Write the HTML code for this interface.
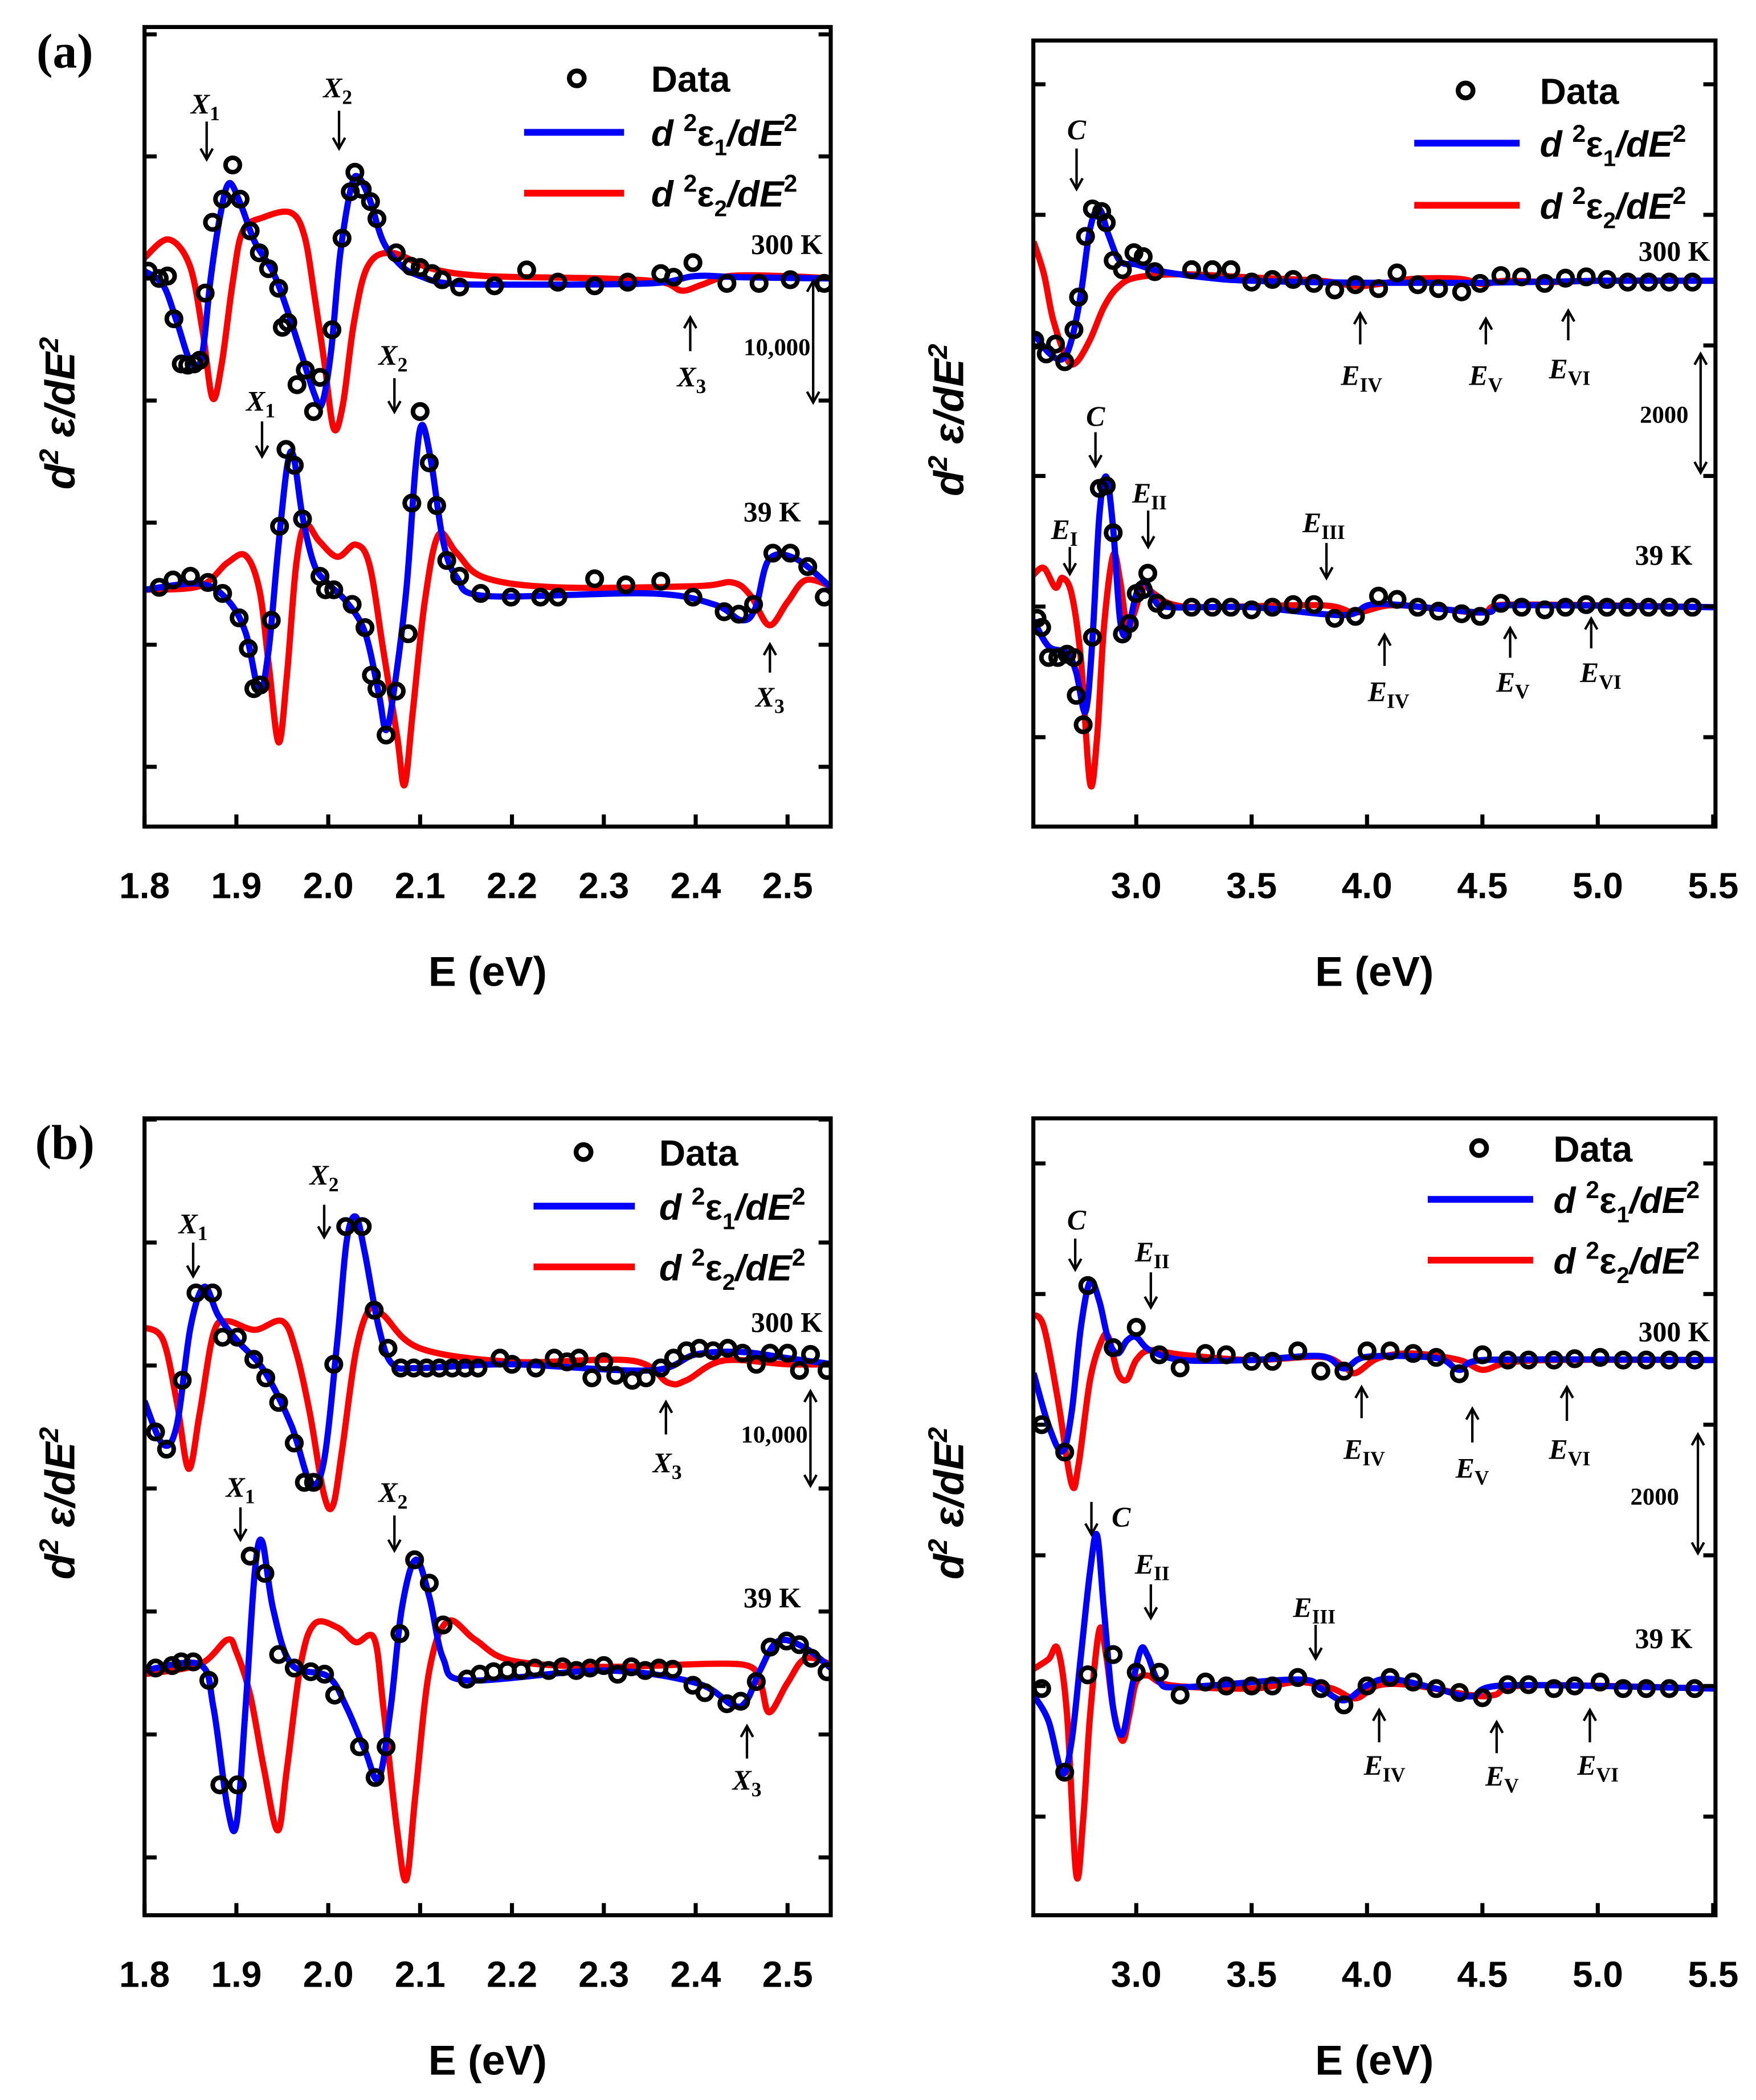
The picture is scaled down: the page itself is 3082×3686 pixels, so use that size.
<!DOCTYPE html>
<html><head><meta charset="utf-8"><style>
html,body{margin:0;padding:0;background:#fff}
svg{display:block}
.tk{font-family:"Liberation Sans",sans-serif;font-weight:bold;font-size:27px}
.ax{font-family:"Liberation Sans",sans-serif;font-weight:bold;font-size:31px}
.lg{font-family:"Liberation Sans",sans-serif;font-weight:bold;font-size:27px}
.an{font-family:"Liberation Serif",serif;font-weight:bold;font-size:21px}
.ai{font-family:"Liberation Serif",serif;font-weight:bold;font-style:italic;font-size:21px}
.pl{font-family:"Liberation Serif",serif;font-weight:bold;font-size:36px}
.sc{font-family:"Liberation Serif",serif;font-weight:bold;font-size:18px}
</style></head><body>
<svg id="fig" width="3082" height="3686" viewBox="0 0 1300 1554.8" preserveAspectRatio="none" xmlns="http://www.w3.org/2000/svg">
<g id="root"></g>
</svg>
<script>
// ===== data: panel (a) left, units: 1000 (x in eV) =====
const aL_d300x=[1.804,1.816,1.825,1.832,1.840,1.847,1.854,1.860,1.866,1.874,1.885,1.896,1.904,1.915,1.925,1.935,1.946,1.950,1.956,1.966,1.975,1.984,1.991,2.004,2.015,2.024,2.029,2.037,2.046,2.053,2.074,2.090,2.100,2.113,2.124,2.143,2.181,2.216,2.250,2.290,2.326,2.362,2.376,2.397,2.434,2.469,2.503,2.540];
const aL_d300y=[0.6,0,0.2,-3.3,-7.0,-7.1,-7.0,-6.7,-1.2,4.6,6.5,9.3,6.5,3.9,2.1,0.8,-0.8,-4.0,-3.6,-8.7,-7.5,-10.9,-8.1,-4.2,3.3,7.1,8.7,7.3,6.3,4.9,2.1,1.0,0.9,0.4,-0.1,-0.7,-0.6,0.7,-0.3,-0.6,-0.3,0.4,0.1,1.3,-0.4,-0.4,-0.1,-0.4];
const aL_b300x=[1.80,1.82,1.835,1.85,1.862,1.872,1.882,1.892,1.905,1.92,1.94,1.955,1.97,1.985,1.993,2.003,2.013,2.025,2.033,2.045,2.06,2.08,2.10,2.13,2.2,2.35,2.4,2.45,2.55];
const aL_b300y=[0.6,-0.5,-3.5,-6.8,-6.5,0,5,7.8,6,3,0.5,-2.5,-6,-9.5,-10.3,-6,2,7.5,8.3,6.5,3,1,0.2,-0.4,-0.5,-0.4,0.2,0.1,0];
const aL_r300x=[1.80,1.826,1.849,1.863,1.874,1.884,1.896,1.907,1.929,1.959,1.974,1.985,1.996,2.006,2.016,2.028,2.043,2.069,2.113,2.172,2.30,2.363,2.385,2.407,2.437,2.495,2.55];
const aL_r300y=[1.7,3.2,1.1,-4.2,-9.8,-7,-0.3,3.9,5,5.4,3.5,-1.4,-7,-12.3,-10.3,-3.6,1,2.1,0.8,0.2,0,-0.3,-1,-0.5,0.2,0.2,0];
const aL_d39x=[1.816,1.831,1.85,1.869,1.885,1.903,1.913,1.919,1.926,1.938,1.947,1.954,1.963,1.972,1.991,1.997,2.006,2.026,2.040,2.047,2.053,2.063,2.074,2.087,2.091,2.100,2.110,2.118,2.129,2.143,2.166,2.199,2.231,2.25,2.29,2.324,2.362,2.397,2.431,2.447,2.463,2.484,2.503,2.522,2.54];
const aL_d39y=[0.2,0.8,1.1,0.6,-0.3,-2.3,-4.8,-8.1,-7.8,-2.5,5.2,11.5,10.2,5.8,1.1,0,0,-1.2,-3.1,-7,-8.1,-11.9,-8.3,-3.6,7.1,14.6,10.4,6.9,2.4,1.1,-0.3,-0.6,-0.6,-0.6,0.9,0.4,0.7,-0.6,-1.8,-2,-1.2,3,3,1.9,-0.6];
const aL_b39x=[1.80,1.86,1.89,1.91,1.925,1.935,1.945,1.955,1.962,1.972,1.985,2.0,2.02,2.04,2.055,2.063,2.072,2.085,2.095,2.102,2.112,2.125,2.14,2.17,2.35,2.42,2.45,2.465,2.48,2.51,2.55];
const aL_b39y=[0,0.5,-0.8,-3.5,-8.3,-5,3,10,11,6,2,0.5,-1,-3.5,-8.5,-11.5,-8,0,10,13.5,10.5,4,1,-0.5,-0.3,-1.2,-2.5,-1.5,2.5,2.5,0];
const aL_r39x=[1.80,1.86,1.89,1.91,1.925,1.935,1.946,1.955,1.965,1.975,1.99,2.01,2.03,2.045,2.06,2.075,2.083,2.092,2.105,2.12,2.14,2.17,2.25,2.4,2.44,2.46,2.48,2.5,2.52,2.55];
const aL_r39y=[0,0.3,2.2,2.8,0,-6,-12.5,-7,2,5.3,4,2.7,3.7,2,-5,-12,-16,-10,-1,4.5,3,1,0.2,0.3,0.6,-0.5,-2.9,-1,0.8,0.2];
// ===== panel (a) right, units: 100 =====
const aR_d300x=[2.56,2.61,2.65,2.69,2.73,2.75,2.78,2.81,2.85,2.87,2.90,2.94,2.99,3.03,3.08,3.24,3.33,3.41,3.50,3.59,3.68,3.77,3.86,3.95,4.05,4.13,4.22,4.31,4.41,4.49,4.58,4.67,4.77,4.86,4.95,5.04,5.13,5.22,5.31,5.41];
const aR_d300y=[-9.1,-11.2,-9.7,-12.4,-7.5,-2.5,6.8,11,10.6,8.9,3.1,1.7,4.3,3.7,1.4,1.7,1.7,1.7,-0.2,0.2,0.2,-0.4,-1.4,-0.6,-1.2,1.2,-0.6,-1.2,-1.7,-0.4,0.8,0.6,-0.4,0.4,0.6,0.2,-0.2,-0.2,-0.2,-0.2];
const aR_b300x=[2.555,2.62,2.68,2.72,2.76,2.8,2.84,2.88,2.93,3.0,3.1,3.3,3.5,4.0,4.5,5.0,5.51];
const aR_b300y=[-8,-11,-12,-9,-2,8,11,7,3,2.5,1.5,0.5,0,-0.3,-0.3,0,0];
const aR_r300x=[2.555,2.6,2.64,2.7,2.74,2.8,2.86,2.92,3.0,3.2,3.5,3.8,3.95,4.05,4.2,4.4,4.5,4.6,4.8,5.0,5.51];
const aR_r300y=[6,1,-6,-12,-12.5,-9,-4,-1,0.5,1,0.5,0,-0.8,-0.5,0.3,0.3,-0.5,0,-0.2,0,0];
const aR_d39x=[2.57,2.59,2.62,2.66,2.70,2.73,2.74,2.77,2.81,2.84,2.87,2.90,2.94,2.97,3.0,3.03,3.05,3.09,3.13,3.24,3.33,3.41,3.50,3.59,3.68,3.77,3.86,3.95,4.05,4.13,4.22,4.31,4.41,4.49,4.58,4.67,4.77,4.86,4.95,5.04,5.13,5.22,5.31,5.41];
const aR_d39y=[-1.7,-3.1,-7.7,-7.7,-7.2,-7.7,-13.5,-18,-4.6,18.2,18.6,11.4,-4.1,-2.5,2.1,2.7,5.2,0.6,-0.4,0,0,0,-0.4,0,0.4,0.4,-1.7,-1.4,1.7,1.2,0,-0.6,-1,-1.4,0.6,0,-0.4,0,0.4,0,0,0,0,0];
const aR_b39x=[2.555,2.62,2.7,2.74,2.78,2.81,2.84,2.87,2.9,2.93,2.96,3.0,3.04,3.08,3.15,3.5,3.9,4.05,4.5,4.6,5.51];
const aR_b39y=[-2,-6,-7,-10,-16,-5,14,20,12,-2,-4,2,4,1,0,0,-1.2,0.5,-0.8,0.3,0];
const aR_r39x=[2.555,2.6,2.65,2.68,2.72,2.76,2.8,2.83,2.86,2.9,2.93,2.96,2.99,3.03,3.08,3.15,3.3,3.8,3.95,4.1,4.3,4.5,4.6,5.51];
const aR_r39y=[5,6,3,4.5,2,-8,-27,-20,-3,8,4,-3,-1,3,2,0.5,0,0.3,-0.8,0.3,-0.2,-0.8,0.4,0];
// ===== panel (b) left, units: 1000 =====
const bL_d300x=[1.812,1.824,1.841,1.856,1.874,1.885,1.901,1.919,1.932,1.946,1.963,1.974,1.984,2.006,2.019,2.037,2.05,2.065,2.079,2.093,2.107,2.121,2.135,2.149,2.163,2.187,2.20,2.226,2.246,2.26,2.273,2.287,2.30,2.313,2.331,2.346,2.362,2.376,2.39,2.404,2.419,2.435,2.451,2.466,2.481,2.50,2.513,2.525,2.543];
const bL_d300y=[-5.5,-6.9,-1.3,5.8,5.8,2.2,2.2,0.4,-1.1,-3.1,-6.4,-9.6,-9.6,0,11.2,11.2,4.4,1.3,-0.3,-0.3,-0.3,-0.3,-0.3,-0.3,-0.3,0.5,0,-0.3,0.5,0.2,0.5,-1.1,0.2,-0.9,-1.3,-1.1,-0.3,0.5,1.1,1.3,1.1,1.3,0.9,0,0.9,0.9,-0.5,0.8,-0.5];
const bL_b300x=[1.80,1.82,1.835,1.85,1.865,1.88,1.9,1.93,1.96,1.98,1.995,2.01,2.02,2.03,2.04,2.055,2.07,2.1,2.2,2.35,2.4,2.45,2.5,2.55];
const bL_b300y=[-3,-6.5,-5,3,6.3,4,2,-0.5,-5,-9.5,-8,2,10,12,9,3,0,-0.3,0,-0.5,0.8,1,0.5,0];
const bL_r300x=[1.80,1.82,1.835,1.848,1.86,1.875,1.89,1.92,1.95,1.965,1.98,1.995,2.005,2.015,2.03,2.045,2.06,2.1,2.2,2.33,2.37,2.39,2.43,2.5,2.55];
const bL_r300y=[3,2,-3,-8.5,-4,2.5,3.5,2.8,3.5,1,-4,-10.5,-11.5,-7,1,4.5,4,1.3,0.2,0.3,-1.5,-1.3,0.3,0,0];
const bL_d39x=[1.812,1.83,1.84,1.853,1.87,1.882,1.901,1.915,1.931,1.946,1.963,1.981,1.996,2.007,2.034,2.051,2.063,2.078,2.094,2.11,2.125,2.151,2.165,2.18,2.195,2.21,2.225,2.24,2.255,2.27,2.285,2.3,2.315,2.33,2.345,2.36,2.375,2.397,2.41,2.434,2.449,2.466,2.481,2.499,2.513,2.526,2.543];
const bL_d39y=[0.2,0.4,0.7,0.7,-0.8,-9.3,-9.3,9.3,7.9,1.3,0.2,-0.1,-0.3,-2,-6.2,-8.7,-6.2,3,9,7.1,3.7,-0.7,-0.3,-0.1,0,0,0.2,0,0.3,0,0.2,0.4,-0.3,0.3,0,0.2,0.1,-1.2,-1.8,-2.7,-2.5,-0.9,1.9,2.4,2.1,1,-0.1];
const bL_b39x=[1.80,1.86,1.875,1.89,1.9,1.91,1.92,1.928,1.94,1.96,2.0,2.02,2.04,2.055,2.068,2.08,2.095,2.11,2.125,2.15,2.3,2.4,2.44,2.455,2.47,2.49,2.52,2.55];
const bL_b39y=[0,0.5,-3,-11,-12.5,-3,8,10.5,5,0.5,-0.5,-3,-6.5,-8.8,-3,5,9,6,1,-0.8,0,-1,-2.8,-2.5,0,2.4,1.8,0];
const bL_r39x=[1.80,1.86,1.89,1.9,1.915,1.93,1.945,1.955,1.97,1.985,2.01,2.03,2.05,2.06,2.075,2.085,2.095,2.11,2.13,2.16,2.2,2.3,2.45,2.47,2.48,2.5,2.52,2.55];
const bL_r39y=[-0.3,0.5,2.5,1.5,-2,-8,-13,-8,0.5,3.8,3.5,2.3,2.6,-3,-13,-17,-10,0,4,2.5,0.8,0.3,0.5,-1,-3.4,-1,1,0.4];
// ===== panel (b) right, units: 100 =====
const bR_d300x=[2.59,2.69,2.79,2.9,3.0,3.10,3.19,3.30,3.39,3.50,3.59,3.70,3.80,3.90,4.0,4.10,4.20,4.30,4.40,4.5,4.61,4.70,4.81,4.90,5.01,5.11,5.21,5.31,5.42];
const bR_d300y=[-9.9,-14.1,11.4,1.9,5,0.8,-1.2,1,0.8,-0.2,-0.2,1.4,-1.7,-1.7,1.4,1.4,1,0.4,-2.1,0.8,0,0,0,0.2,0.4,0,0,0,0];
const bR_b300x=[2.555,2.62,2.68,2.72,2.76,2.8,2.84,2.88,2.92,2.96,3.0,3.06,3.2,3.5,3.8,3.9,4.0,4.3,4.4,4.5,5.51];
const bR_b300y=[-2,-10,-14,-8,5,12,9,3,1,3,3.5,1.5,0,0,0.6,-1.3,0.5,0.3,-1.5,0,0];
const bR_r300x=[2.555,2.6,2.66,2.72,2.75,2.8,2.85,2.88,2.92,2.96,3.0,3.06,3.2,3.5,3.8,3.9,3.95,4.05,4.2,4.4,4.5,4.6,4.8,5.51];
const bR_r300y=[7,5,-6,-19,-16,-3,3,3.5,-2,-3,0,1.5,0.8,0,0.5,-1,-2,0.3,1,0,-1.5,-0.5,0,0];
const bR_d39x=[2.59,2.69,2.79,2.9,3.0,3.10,3.19,3.30,3.39,3.50,3.59,3.70,3.80,3.90,4.0,4.10,4.20,4.30,4.40,4.5,4.61,4.70,4.81,4.90,5.01,5.11,5.21,5.31,5.42];
const bR_d39y=[0,-12.8,2.1,5.2,2.5,2.5,-1,1,0.4,0.4,0.4,1.7,0,-2.5,0.4,1.7,1,0,-0.6,-1.4,0.6,0.6,0,0.4,1,0,0,0,0];
const bR_b39x=[2.555,2.62,2.68,2.72,2.76,2.8,2.83,2.86,2.9,2.94,2.98,3.02,3.05,3.1,3.2,3.7,3.8,3.9,4.0,4.1,4.3,4.45,4.6,5.51];
const bR_b39y=[-1,-5,-13,-8,5,18,23.5,12,-3,-7,0,6,5,1,0.2,1.4,0,-1.8,0.5,1.5,0,-1.2,0.5,0];
const bR_r39x=[2.555,2.62,2.66,2.7,2.74,2.77,2.8,2.84,2.87,2.9,2.94,2.97,3.0,3.05,3.15,3.5,3.7,3.85,3.95,4.05,4.2,4.45,4.55,4.7,5.51];
const bR_r39y=[3,4.5,6,-4,-28.5,-20,-4,9,5,-3,-8,-4,1,2,0.5,0,1,0,-1.5,0.5,0.5,-1,-1,0.5,0];
// curve offsets per temperature and tick labels
const aL_offsets=[40,14.5], aR_offsets=[69.9,19.9], bL_offsets=[40.1,15.2], bR_offsets=[69.9,19.6];
const leftTicks=[1.8,1.9,2.0,2.1,2.2,2.3,2.4,2.5];
const rightTicks=[3.0,3.5,4.0,4.5,5.0,5.5];

const NS='http://www.w3.org/2000/svg';
const root=document.getElementById('root');
function mk(tag,attrs,parent){const e=document.createElementNS(NS,tag);for(const k in attrs)e.setAttribute(k,attrs[k]);(parent||root).appendChild(e);return e;}

function panel(p){
  const g=mk('g',{});
  
  
  const X=v=>p.x0+(v-p.xmin)/(p.xmax-p.xmin)*(p.x1-p.x0);
  const Y=v=>p.y1-(v-p.ymin)/(p.ymax-p.ymin)*(p.y1-p.y0);
  const cp=mk('clipPath',{id:'cl'+p.name},g);mk('rect',{x:p.x0,y:p.y0,width:p.x1-p.x0,height:p.y1-p.y0},cp);
  const cg=mk('g',{'clip-path':'url(#cl'+p.name+')'},g);
  function curve(xs,ys,off,color,nm){
    const pts=xs.map((x,i)=>[X(x),Y(ys[i]+off)]);
    let d='M'+pts[0][0].toFixed(2)+','+pts[0][1].toFixed(2);
    for(let i=0;i<pts.length-1;i++){
      const p0=pts[Math.max(0,i-1)],p1=pts[i],p2=pts[i+1],p3=pts[Math.min(pts.length-1,i+2)];
      const c1=[p1[0]+(p2[0]-p0[0])/6,p1[1]+(p2[1]-p0[1])/6];
      const c2=[p2[0]-(p3[0]-p1[0])/6,p2[1]-(p3[1]-p1[1])/6];
      c1[0]=Math.min(Math.max(c1[0],p1[0]),p2[0]);c2[0]=Math.min(Math.max(c2[0],p1[0]),p2[0]);
      d+=' C'+c1[0].toFixed(2)+','+c1[1].toFixed(2)+' '+c2[0].toFixed(2)+','+c2[1].toFixed(2)+' '+p2[0].toFixed(2)+','+p2[1].toFixed(2);
    }
    const e=mk('path',{d:d,fill:'none',stroke:color,'stroke-width':4.6,'stroke-linejoin':'round'},cg);
    
    
  }
  function dots(xs,ys,off,nm){
    const gg=mk('g',{},cg);
    
    
    xs.forEach((x,i)=>{
      const c=mk('circle',{cx:X(x),cy:Y(ys[i]+off),r:5.3,fill:'none',stroke:'#000','stroke-width':3.4},gg);
      
      
    });
  }
  [[0,'300k'],[1,'39k']].forEach(([k,t])=>{
    curve(p.s[k].rx,p.s[k].ry,p.off[k],'#ff0000','red-fit-'+t);
    curve(p.s[k].bx,p.s[k].by,p.off[k],'#0000ff','blue-fit-'+t);
    dots(p.s[k].dx,p.s[k].dy,p.off[k],'data-'+t);
  });
  const fr=mk('rect',{x:p.x0,y:p.y0,width:p.x1-p.x0,height:p.y1-p.y0,fill:'none',stroke:'#000','stroke-width':3},g);
  
  
  p.xt.forEach(v=>{
    const x=X(v);
    mk('line',{x1:x,x2:x,y1:p.y1,y2:p.y1-9,stroke:'#000','stroke-width':3},g);
    const t=mk('text',{x:x,y:p.y1+53,'text-anchor':'middle',class:'tk'},g);t.textContent=v.toFixed(1);
    
    
  });
  for(let v=p.ytick0;v<p.ymax;v+=p.ystep){
    const y=Y(v);
    mk('line',{x1:p.x0,x2:p.x0+9,y1:y,y2:y,stroke:'#000','stroke-width':3},g);
    mk('line',{x1:p.x1,x2:p.x1-9,y1:y,y2:y,stroke:'#000','stroke-width':3},g);
  }
  const xl=mk('text',{x:(p.x0+p.x1)/2,y:p.y1+118,'text-anchor':'middle',class:'ax'},g);xl.textContent='E (eV)';
  
  
  const yl=mk('text',{transform:'translate('+(p.x0-52)+','+((p.y0+p.y1)/2-10)+') rotate(-90)','text-anchor':'middle',class:'ax','font-style':'italic'},g);
  yl.innerHTML='d<tspan dy="-12" font-size="20">2</tspan><tspan dy="12"> ε/dE</tspan><tspan dy="-12" font-size="20">2</tspan>';
  
  
}
const S=(a,b,c,d,e,f)=>({dx:a,dy:b,bx:c,by:d,rx:e,ry:f});
panel({name:'panel-a-left',x0:107,x1:615,y0:20,y1:612,xmin:1.8,xmax:2.547,ymin:-4.9,ymax:60.6,ytick0:0,ystep:10,xt:leftTicks,off:aL_offsets,
  s:[S(aL_d300x,aL_d300y,aL_b300x,aL_b300y,aL_r300x,aL_r300y),S(aL_d39x,aL_d39y,aL_b39x,aL_b39y,aL_r39x,aL_r39y)]});
panel({name:'panel-a-right',x0:765,x1:1270,y0:30,y1:612,xmin:2.554,xmax:5.51,ymin:-13.7,ymax:106.7,ytick0:0,ystep:20,xt:rightTicks,off:aR_offsets,
  s:[S(aR_d300x,aR_d300y,aR_b300x,aR_b300y,aR_r300x,aR_r300y),S(aR_d39x,aR_d39y,aR_b39x,aR_b39y,aR_r39x,aR_r39y)]});
panel({name:'panel-b-left',x0:107,x1:615,y0:828,y1:1418,xmin:1.8,xmax:2.547,ymin:-4.7,ymax:60.1,ytick0:0,ystep:10,xt:leftTicks,off:bL_offsets,
  s:[S(bL_d300x,bL_d300y,bL_b300x,bL_b300y,bL_r300x,bL_r300y),S(bL_d39x,bL_d39y,bL_b39x,bL_b39y,bL_r39x,bL_r39y)]});
panel({name:'panel-b-right',x0:765,x1:1270,y0:828,y1:1418,xmin:2.554,xmax:5.51,ymin:-15.1,ymax:106.9,ytick0:0,ystep:20,xt:rightTicks,off:bR_offsets,
  s:[S(bR_d300x,bR_d300y,bR_b300x,bR_b300y,bR_r300x,bR_r300y),S(bR_d39x,bR_d39y,bR_b39x,bR_b39y,bR_r39x,bR_r39y)]});

function legend(cx,cy,tx,lx0,lx1,yb,yr){
  const g=mk('g',{});
  
  
  mk('circle',{cx:cx,cy:cy,r:5.5,fill:'none',stroke:'#000','stroke-width':3.6},g);
  let t=mk('text',{x:tx,y:cy+10,class:'lg'},g);t.textContent='Data';
  mk('line',{x1:lx0,x2:lx1,y1:yb,y2:yb,stroke:'#0000ff','stroke-width':5},g);
  t=mk('text',{x:tx,y:yb+10,class:'lg','font-style':'italic'},g);
  t.innerHTML='d <tspan dy="-11" font-size="18" font-style="normal">2</tspan><tspan dy="11" font-style="normal">ε</tspan><tspan dy="7" font-size="17" font-style="normal">1</tspan><tspan dy="-7">/dE</tspan><tspan dy="-11" font-size="18" font-style="normal">2</tspan>';
  mk('line',{x1:lx0,x2:lx1,y1:yr,y2:yr,stroke:'#ff0000','stroke-width':5},g);
  t=mk('text',{x:tx,y:yr+10,class:'lg','font-style':'italic'},g);
  t.innerHTML='d <tspan dy="-11" font-size="18" font-style="normal">2</tspan><tspan dy="11" font-style="normal">ε</tspan><tspan dy="7" font-size="17" font-style="normal">2</tspan><tspan dy="-7">/dE</tspan><tspan dy="-11" font-size="18" font-style="normal">2</tspan>';
}
legend(427,58,482,388,462,98,143);
legend(1085,67,1140,1047,1125,106,152);
legend(432,853,488,395,470,893,938);
legend(1095,850,1150,1057,1135,888,933);

function txt(x,y,s,cls,anchor,nm){const t=mk('text',{x:x,y:y,class:cls,'text-anchor':anchor||'start'});t.innerHTML=s;return t;}
function arr(x,y1,y2){
  mk('line',{x1:x,x2:x,y1:y1,y2:y2,stroke:'#000','stroke-width':1.8});
  const d=y2>y1?-1:1;
  mk('path',{d:`M${x-4.5},${y2+d*8} L${x},${y2} L${x+4.5},${y2+d*8}`,fill:'none',stroke:'#000','stroke-width':1.8});
}
function dbl(x,y1,y2){arr(x,(y1+y2)/2,y1);arr(x,(y1+y2)/2,y2);}
const sub=s=>`<tspan dy="5" font-size="15" font-style="normal">${s}</tspan>`;
const lab=(x,y,n,s)=>txt(x,y,n+sub(s),'ai','middle','peak-label');
txt(48,50,'(a)','pl','middle','panel-a-label');
txt(48,858,'(b)','pl','middle','panel-b-label');
// a-left
txt(609,188,'300 K','an','end','temp-label');txt(593,386,'39 K','an','end','temp-label');
txt(600,263,'10,000','sc','end','scale-label');dbl(602,208,298);
lab(152,84,'X','1');arr(153,90,118);lab(250,72,'X','2');arr(251,82,110);
lab(512,286,'X','3');arr(511,260,235);
lab(193,304,'X','1');arr(194,312,338);lab(291,270,'X','2');arr(292,280,305);
lab(570,523,'X','3');arr(570,498,477);
// a-right
txt(1266,193,'300 K','an','end','temp-label');txt(1253,418,'39 K','an','end','temp-label');
txt(1250,313,'2000','sc','end','scale-label');dbl(1259,262,350);
txt(797,103,'C','ai','middle','peak-label');arr(797,110,140);
lab(1008,285,'E','IV');arr(1007,255,232);lab(1100,285,'E','V');arr(1100,255,236);lab(1162,280,'E','VI');arr(1161,252,230);
txt(811,315,'C','ai','middle','peak-label');arr(811,320,345);
lab(788,399,'E','I');arr(792,405,425);lab(851,372,'E','II');arr(850,378,405);lab(980,394,'E','III');arr(982,402,428);
lab(1028,519,'E','IV');arr(1025,493,470);lab(1120,512,'E','V');arr(1118,487,465);lab(1185,505,'E','VI');arr(1178,480,458);
// b-left
txt(609,986,'300 K','an','end','temp-label');txt(593,1190,'39 K','an','end','temp-label');
txt(598,1068,'10,000','sc','end','scale-label');dbl(600,1030,1100);
lab(143,913,'X','1');arr(143,920,945);lab(240,877,'X','2');arr(240,892,916);lab(494,1090,'X','3');arr(493,1062,1038);
lab(178,1108,'X','1');arr(178,1116,1140);lab(291,1112,'X','2');arr(292,1122,1148);lab(553,1325,'X','3');arr(553,1302,1278);
// b-right
txt(1266,993,'300 K','an','end','temp-label');txt(1253,1220,'39 K','an','end','temp-label');
txt(1243,1114,'2000','sc','end','scale-label');dbl(1257,1062,1150);
txt(797,910,'C','ai','middle','peak-label');arr(796,917,940);lab(853,934,'E','II');arr(852,942,968);
lab(1010,1080,'E','IV');arr(1008,1050,1027);lab(1090,1094,'E','V');arr(1090,1068,1043);lab(1162,1080,'E','VI');arr(1160,1052,1027);
txt(830,1130,'C','ai','middle','peak-label');arr(808,1112,1136);lab(853,1165,'E','II');arr(852,1173,1198);
lab(973,1197,'E','III');arr(974,1203,1228);lab(1025,1314,'E','IV');arr(1021,1290,1266);lab(1112,1322,'E','V');arr(1108,1298,1275);lab(1183,1314,'E','VI');arr(1177,1290,1266);
</script>
</body></html>
